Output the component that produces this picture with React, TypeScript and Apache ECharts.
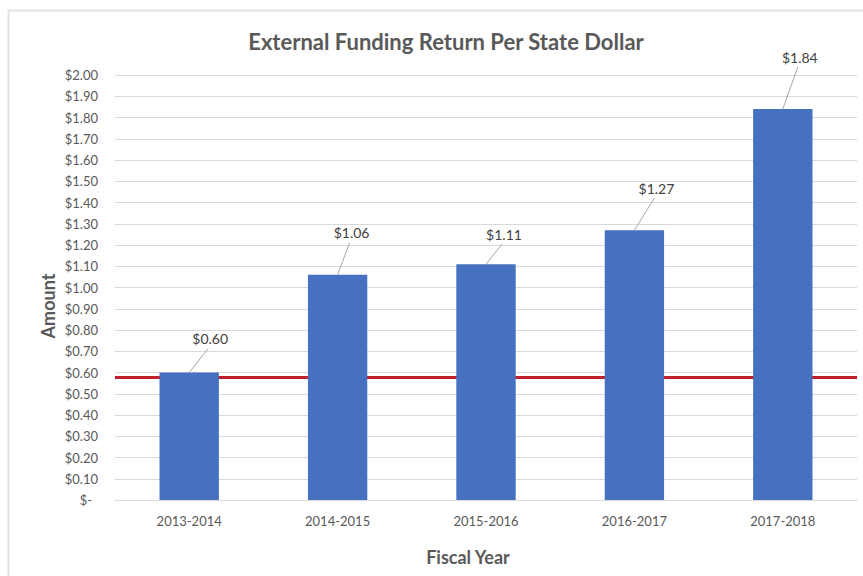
import React, { useEffect, useRef } from "react";
import * as echarts from "echarts";

const categories = ["2013-2014", "2014-2015", "2015-2016", "2016-2017", "2017-2018"];
const values = [0.6, 1.06, 1.11, 1.27, 1.84];
const benchmark = 0.58;
const yMin = 0;
const yMax = 2;
const yInterval = 0.1;
const titleText = "External Funding Return Per State Dollar";
const yAxisTitle = "Amount";
const xAxisTitle = "Fiscal Year";

// label offsets (styling) relative to the bar-top point
const labelDx = [21, 14, 18, 22, 17];
const labelDy = [-34, -42, -30, -42, -52];

const FONT = "Lato, 'Open Sans', sans-serif";
const TEXT = "#595959";

export default function App() {
  const ref = useRef<HTMLDivElement>(null);
  useEffect(() => {
    if (!ref.current) return;
    const chart = echarts.init(ref.current, null, { renderer: "svg" });
    const fmt = (v: number) => (v === 0 ? "{z|$-}" : "$" + v.toFixed(2));
    chart.setOption({
      animation: false,
      backgroundColor: "#ffffff",
      textStyle: { fontFamily: FONT },
      title: {
        text: titleText,
        left: 441,
        top: 25,
        textAlign: "center",
        textStyle: { fontFamily: FONT, fontSize: 22, fontWeight: "bold", color: TEXT },
      },
      grid: { left: 115, right: 6, top: 75, bottom: 76, containLabel: false },
      xAxis: {
        type: "category",
        data: categories,
        axisLine: { show: true, lineStyle: { color: "#d9d9d9", width: 1 } },
        axisTick: { show: false },
        axisLabel: { color: TEXT, fontSize: 13, margin: 14, fontFamily: FONT },
      },
      yAxis: {
        type: "value",
        min: yMin,
        max: yMax,
        interval: yInterval,
        axisLine: { show: false },
        axisTick: { show: false },
        splitLine: { lineStyle: { color: "#d9d9d9", width: 1 } },
        axisLabel: {
          color: TEXT,
          fontSize: 13,
          margin: 17,
          fontFamily: FONT,
          formatter: fmt,
          rich: { z: { color: TEXT, fontSize: 13, fontFamily: FONT, padding: [0, 6, 0, 0] } },
        },
      },
      series: [
        {
          type: "bar",
          data: values,
          barWidth: "40%",
          z: 3,
          itemStyle: { color: "#4671c0" },
          markLine: {
            silent: true,
            z: 1,
            symbol: ["none", "none"],
            label: { show: false },
            lineStyle: { color: "#c0202a", width: 3, type: "solid" },
            data: [{ yAxis: benchmark }],
          },
        },
        {
          type: "custom",
          z: 4,
          silent: true,
          data: values.map((v, i) => [i, v]),
          encode: { x: 0, y: 1 },
          renderItem: (params: any, api: any) => {
            const i = params.dataIndex;
            const p = api.coord([api.value(0), api.value(1)]);
            const dx = labelDx[i];
            const dy = labelDy[i];
            return {
              type: "group",
              children: [
                {
                  type: "line",
                  shape: { x1: p[0], y1: p[1], x2: p[0] + dx - 2, y2: p[1] + dy + 10 },
                  style: { stroke: "#a6a6a6", lineWidth: 1 },
                },
                {
                  type: "text",
                  x: p[0] + dx,
                  y: p[1] + dy,
                  style: {
                    text: "$" + values[i].toFixed(2),
                    fill: "#404040",
                    fontSize: 14,
                    fontFamily: FONT,
                    align: "center",
                    verticalAlign: "middle",
                  },
                },
              ],
            };
          },
        },
      ],
      graphic: [
        {
          type: "line",
          shape: { x1: 8, y1: 10.5, x2: 863, y2: 10.5 },
          style: { stroke: "#e3e3e3", lineWidth: 2 },
        },
        {
          type: "line",
          shape: { x1: 8.5, y1: 10, x2: 8.5, y2: 576 },
          style: { stroke: "#e3e3e3", lineWidth: 2 },
        },
        {
          type: "text",
          x: 48,
          y: 306,
          rotation: Math.PI / 2,
          style: {
            text: yAxisTitle,
            fill: TEXT,
            fontSize: 18,
            fontWeight: "bold",
            fontFamily: FONT,
            align: "center",
            verticalAlign: "middle",
          },
        },
        {
          type: "text",
          x: 468,
          y: 557,
          style: {
            text: xAxisTitle,
            fill: TEXT,
            fontSize: 18,
            fontWeight: "bold",
            fontFamily: FONT,
            align: "center",
            verticalAlign: "middle",
          },
        },
      ],
    });
    return () => chart.dispose();
  }, []);
  return (
    <div
      ref={ref}
      style={{ position: "absolute", left: 0, top: 0, width: 863, height: 576 }}
    />
  );
}
